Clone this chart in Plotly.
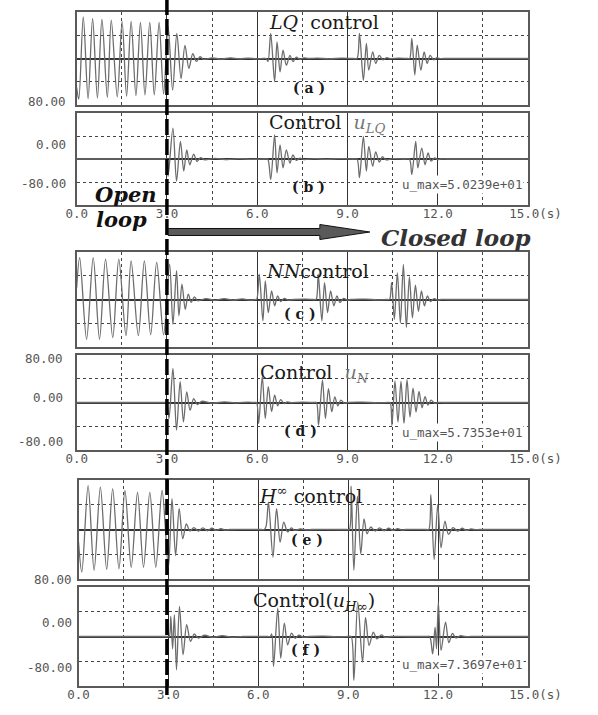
import plotly.graph_objects as go

W, H = 598, 715

# ---------------- data (time in s, value) ----------------
# (a) LQ control response
t_a = [0.00, 0.07, 0.22, 0.38, 0.53, 0.69, 0.84, 1.02, 1.15, 1.35, 1.51, 1.66, 1.81, 1.97, 2.12, 2.27, 2.43, 2.58, 2.74, 2.89,
       3.04, 3.19, 3.33, 3.47, 3.60, 3.73, 3.86, 3.98, 4.10, 4.22, 4.5, 4.8, 5.1, 5.4, 5.7, 6.0, 6.20, 6.30,
       6.36, 6.45, 6.58, 6.66, 6.76, 6.86, 6.97, 7.09, 7.19, 7.30, 7.42, 7.55, 7.7, 8.0, 8.4, 8.8, 9.2, 9.32,
       9.40, 9.53, 9.63, 9.71, 9.84, 9.94, 10.06, 10.18, 10.30, 10.40, 10.7, 11.0, 11.07,
       11.14, 11.24, 11.32, 11.44, 11.55, 11.65, 11.75, 11.87, 11.97, 12.05, 12.2, 15.0]
y_a = [-100, -140, 143, -138, 138, -136, 135, -134, 132, -132, 128, -130, 128, -128, 124, -126, 124, -125, 124, -122,
       110, -109, 86, -69, 45, -34, 17, -10, 6, -3, 2, -2, 2, -1, 1, -1, 0, 0,
       -10, 86, -80, 57, -46, 29, -23, 11, -11, 5, -3, 2, 0, 1, -1, 1, 0, 0,
       86, -75, 52, -40, 23, -17, 11, -5, 3, 0, 1, 0, 0,
       69, -57, 46, -40, 23, -17, 11, -5, 3, 0, 0, 0]

# (b) LQ control input u_LQ
t_b = [0.00, 1.00, 2.00, 2.95, 3.00, 3.04, 3.20, 3.32, 3.45, 3.56, 3.66, 3.76, 3.89, 4.00, 4.12, 4.25, 4.6, 5.0, 5.4, 5.8, 6.25, 6.35,
       6.45, 6.58, 6.66, 6.76, 6.86, 6.97, 7.09, 7.19, 7.30, 7.42, 7.55, 7.9, 8.3, 8.7, 9.2, 9.32,
       9.40, 9.53, 9.63, 9.71, 9.84, 9.94, 10.06, 10.16, 10.28, 10.5, 10.9, 11.06,
       11.14, 11.27, 11.34, 11.47, 11.58, 11.68, 11.78, 11.90, 12.00, 12.10, 12.3, 15.0]
y_b = [0, 0, 0, 0, 0, -60, 107, -77, 61, -42, 32, -20, 17, -8, 5, -3, 2, -2, 1, -1, 0, 0,
       -71, 84, -48, 49, -31, 32, -14, 14, -5, 3, -2, 1, -1, 1, 0, 0,
       -65, 78, -42, 44, -25, 25, -11, 8, -3, 1, 0, 0,
       -54, 61, -31, 38, -20, 21, -7, 4, -2, 0, 0, 0]

# (c) NN control response
t_c = [0.00, 0.10, 0.33, 0.55, 0.76, 0.96, 1.20, 1.40, 1.64, 1.81, 2.05, 2.25, 2.46, 2.66, 2.89,
       3.09, 3.20, 3.32, 3.40, 3.50, 3.61, 3.71, 3.81, 3.91, 4.02, 4.3, 4.6, 4.9, 5.2, 5.5, 5.8, 5.90, 5.98,
       6.07, 6.19, 6.27, 6.37, 6.48, 6.58, 6.68, 6.78, 6.90, 7.04, 7.20, 7.6, 7.88, 7.96,
       8.03, 8.15, 8.24, 8.34, 8.44, 8.55, 8.65, 8.75, 8.87, 9.00, 9.10, 9.6, 10.0, 10.32, 10.40,
       10.47, 10.56, 10.66, 10.76, 10.86, 10.96, 11.06, 11.16, 11.26, 11.36, 11.46, 11.56, 11.66, 11.76,
       11.88, 12.00, 12.10, 12.3, 15.0]
y_c = [40, 141, -134, 141, -134, 136, -128, 136, -122, 130, -122, 130, -119, 125, -119,
       119, -83, 97, -55, 52, -33, 18, -10, 9, -4, 3, -3, 3, -2, 2, -2, 0, 0,
       85, -72, 63, -44, 29, -21, 12, -7, 4, -2, 0, 1, 0, 0,
       85, -72, 57, -44, 29, -21, 12, -10, 4, -2, 0, 1, -1, 0, 0,
       57, -67, 90, -79, 118, -94, 76, -62, 48, -40, 29, -21, 12, -7,
       3, -2, 0, 0, 0]

# (d) NN control input u_N
t_d = [0.00, 1.00, 2.00, 2.95, 3.00, 3.07, 3.20, 3.32, 3.44, 3.55, 3.66, 3.77, 3.89, 4.01, 4.15, 4.5, 4.9, 5.3, 5.7, 5.90, 5.98,
       6.05, 6.17, 6.27, 6.37, 6.48, 6.58, 6.68, 6.78, 6.90, 7.00, 7.10, 7.5, 7.88, 7.97,
       8.04, 8.17, 8.27, 8.37, 8.48, 8.58, 8.68, 8.78, 8.90, 9.00, 9.5, 10.0, 10.34, 10.42,
       10.48, 10.58, 10.68, 10.78, 10.88, 10.98, 11.08, 11.18, 11.28, 11.38, 11.48, 11.58, 11.68, 11.78,
       11.90, 12.00, 12.2, 15.0]
y_d = [0, 0, 0, 0, 0, -54, 115, -93, 70, -65, 36, -26, 13, -7, 4, -2, 2, -1, 1, 0, 0,
       -71, 87, -54, 53, -31, 25, -11, 10, -4, 2, 0, 1, 0, 0,
       -76, 75, -54, 47, -31, 19, -11, 8, -3, 0, 1, -1, 0, 0,
       -78, 73, -66, 71, -72, 77, -49, 48, -32, 37, -18, 20, -9, 8,
       -3, 0, 0, 0]

# (e) H-infinity control response
t_e = [0.00, 0.11, 0.32, 0.52, 0.73, 0.94, 1.14, 1.35, 1.55, 1.76, 1.97, 2.17, 2.38, 2.58, 2.79, 3.00,
       3.12, 3.24, 3.36, 3.48, 3.60, 3.72, 3.85, 4.00, 4.15, 4.30, 4.45, 4.60, 4.75, 4.90, 5.05, 6.10, 6.20,
       6.26, 6.34, 6.49, 6.61, 6.73, 6.85, 6.98, 7.10, 7.22, 7.40, 7.60, 7.80, 8.95, 9.04,
       9.10, 9.19, 9.31, 9.42, 9.53, 9.63, 9.75, 9.90, 10.05, 10.20, 10.35, 10.50, 10.65, 10.80, 10.90, 11.60, 11.69,
       11.76, 11.87, 11.99, 12.10, 12.23, 12.35, 12.50, 12.65, 12.80, 12.95, 13.10, 13.20, 13.4, 15.0]
y_e = [-40, -138, 142, -132, 137, -129, 131, -127, 126, -122, 120, -122, 120, -122, 126, -122,
       100, -84, 67, -30, 18, -5, 6, -5, 5, -4, 4, -3, 3, -2, 0, 0, 0,
       10, 88, -89, 67, -41, 24, -8, 5, -3, 2, -1, 0, 0, 0,
       140, -132, 108, -79, 34, -14, 8, -5, 5, -4, 4, -3, 3, -2, 0, 0, 0,
       113, -97, 81, -59, 27, -16, 6, -5, 4, -3, 2, 0, 0, 0]

# (f) H-infinity control input u_Hinf
t_f = [0.00, 1.00, 2.00, 2.97, 3.03, 3.08, 3.14, 3.20, 3.27, 3.37, 3.49, 3.61, 3.74, 3.86, 4.00, 4.2, 4.5, 4.8, 5.1, 5.5, 6.30, 6.40,
       6.45, 6.51, 6.65, 6.75, 6.87, 6.98, 7.11, 7.23, 7.35, 7.50, 7.70, 8.2, 8.6, 9.00, 9.10,
       9.19, 9.32, 9.48, 9.58, 9.70, 9.84, 9.96, 10.10, 10.25, 10.40, 11.0, 11.62, 11.72,
       11.82, 11.90, 11.95, 12.01, 12.10, 12.25, 12.36, 12.48, 12.60, 12.75, 12.90, 13.1, 15.0]
y_f = [0, 0, 0, 0, 0, 65, -40, 70, -108, 97, -59, 38, -16, 8, -5, 4, -3, 3, -2, 0, 0, 0,
       8, -97, 92, -70, 43, -27, 11, -6, 4, -2, 0, 1, -1, 0, 0,
       -142, 111, -83, 62, -29, 14, -8, 5, -3, 0, 0, 0, 0,
       -56, 30, -40, 111, -45, 46, -20, 10, -5, 3, 0, 0, 0]

x_tick_vals = [0, 3, 6, 9, 12, 15]
x_tick_text = ["0.0", "3.0", "6.0", "9.0", "12.0", "\u00a0\u00a015.0(s)"]
y_tick_text = ["80.00", "0.00", "-80.00"]
umax_text = ["u_max=5.0239e+01", "u_max=5.7353e+01", "u_max=7.3697e+01"]

# ---------------- layout geometry (pixels) ----------------
panels = [  # (left, right, top, bottom)
    (71, 559, 12, 105),
    (71, 559, 113, 205),
    (71, 559, 252, 347),
    (71, 559, 355, 450),
    (73, 559, 480, 579),
    (73, 559, 587, 686),
]
series = [(t_a, y_a), (t_b, y_b), (t_c, y_c), (t_d, y_d), (t_e, y_e), (t_f, y_f)]


def px(x):
    return x / W


def py(y):
    return 1 - y / H


fig = go.Figure()
layout = dict(
    width=W, height=H,
    margin=dict(l=0, r=0, t=0, b=0),
    paper_bgcolor="white", plot_bgcolor="white",
    showlegend=False,
)

TRACE = "#6c6c6c"
for i, ((l, r, t, b), (tx, ty)) in enumerate(zip(panels, series), start=1):
    sfx = "" if i == 1 else str(i)
    fig.add_trace(go.Scatter(
        x=tx, y=ty, mode="lines",
        line=dict(color=TRACE, width=1.3, shape="spline", smoothing=0.9),
        xaxis="x" + sfx, yaxis="y" + sfx, hoverinfo="skip",
    ))
    layout["xaxis" + sfx] = dict(
        domain=[px(l), px(r)], anchor="y" + sfx, range=[0, 15],
        tickmode="array", tickvals=x_tick_vals, ticktext=x_tick_text,
        showticklabels=(i % 2 == 0), ticks="", ticklabelstandoff=-4,
        ticklabeloverflow="allow",
        tickfont=dict(family="DejaVu Sans Mono", size=12.5, color="#555"),
        showgrid=True, gridcolor="#333", gridwidth=1,
        minor=dict(tickvals=[1.5, 4.5, 7.5, 10.5, 13.5], showgrid=True,
                   gridcolor="#444", griddash="dot", gridwidth=1),
        zeroline=False, showline=True, mirror=True, linecolor="#5a5a5a", linewidth=2,
        fixedrange=True,
    )
    layout["yaxis" + sfx] = dict(
        domain=[py(b), py(t)], anchor="x" + sfx, range=[-160, 160],
        tickmode="array", tickvals=[-80, 80], showticklabels=False, ticks="",
        showgrid=True, gridcolor="#444", griddash="dot", gridwidth=1,
        zeroline=True, zerolinecolor="#333", zerolinewidth=1.5,
        showline=True, mirror=True, linecolor="#5a5a5a", linewidth=2,
        fixedrange=True,
    )

fig.update_layout(**layout)

ann = []
SERIF = "DejaVu Serif"


def text(x, y, s, size=19, anchor="left", color="#1a1a1a", family=SERIF, bg=None):
    d = dict(x=px(x), y=py(y), xref="paper", yref="paper", text=s, showarrow=False,
             xanchor=anchor, yanchor="middle",
             font=dict(family=family, size=size, color=color))
    if bg:
        d["bgcolor"] = bg
    ann.append(d)


# y tick labels (as printed next to each pair of panels)
ylab_pos = [(62, [102, 144, 183]), (58, [358, 397, 441]), (68, [579, 622, 667])]
for xr, ys in ylab_pos:
    for lab, yy in zip(y_tick_text, ys):
        text(xr, yy, lab, size=12.5, anchor="right", color="#555", family="DejaVu Sans Mono")

# panel titles
LBL = 14
text(277, 22, "<i>LQ</i>\u00a0\u00a0control")
text(322, 88, "<b>( a )</b>", size=LBL, anchor="center")
text(277, 123, "Control\u00a0\u00a0<span style='color:#777'><i>u</i><sub><i>LQ</i></sub></span>")
text(322, 187, "<b>( b )</b>", size=LBL, anchor="center")
text(274, 271, "<i>NN</i>control")
text(313, 314, "<b>( c )</b>", size=LBL, anchor="center")
text(267, 373, "Control\u00a0\u00a0<span style='color:#777'><i>u</i><sub><i>N</i></sub></span>")
text(313, 431, "<b>( d )</b>", size=LBL, anchor="center")
text(266, 495, "<i>H</i><sup>\u221e</sup>\u00a0control")
text(320, 540, "<b>( e )</b>", size=LBL, anchor="center")
text(259, 601, "Control(<i>u</i><sub><i>H</i>\u221e</sub>)")
text(318, 650, "<b>( f )</b>", size=LBL, anchor="center")

# u_max labels
for yy, s in zip([184, 432, 664], umax_text):
    text(421, yy, s, size=12.5, color="#555", family="DejaVu Sans Mono", bg="white")

# open / closed loop labels
text(89, 195, "<b><i>Open</i></b>", size=21, color="#111")
text(90, 219, "<b><i>loop</i></b>", size=21, color="#111")
text(398, 237, "<b><i>Closed loop</i></b>", size=23, color="#333")

fig.update_layout(annotations=ann)

# vertical dashed line at t = 3 s and arrow
shapes = [
    dict(type="line", xref="x", yref="paper", x0=3, x1=3, y0=py(695), y1=1,
         line=dict(color="black", width=3.5, dash="16px,4px"), layer="above"),
]
ax = [(170, 228.5), (334, 228.5), (334, 224.5), (388, 232), (334, 239.5), (334, 235.5), (170, 235.5)]
path = "M " + " L ".join(f"{px(x):.5f},{py(y):.5f}" for x, y in ax) + " Z"
shapes.append(dict(type="path", xref="paper", yref="paper", path=path,
                   fillcolor="#5a5a5a", line=dict(color="#111", width=1), layer="above"))
fig.update_layout(shapes=shapes)

fig.write_html("out.html", config={"displayModeBar": False},
               post_script="document.body.style.margin='0';")
